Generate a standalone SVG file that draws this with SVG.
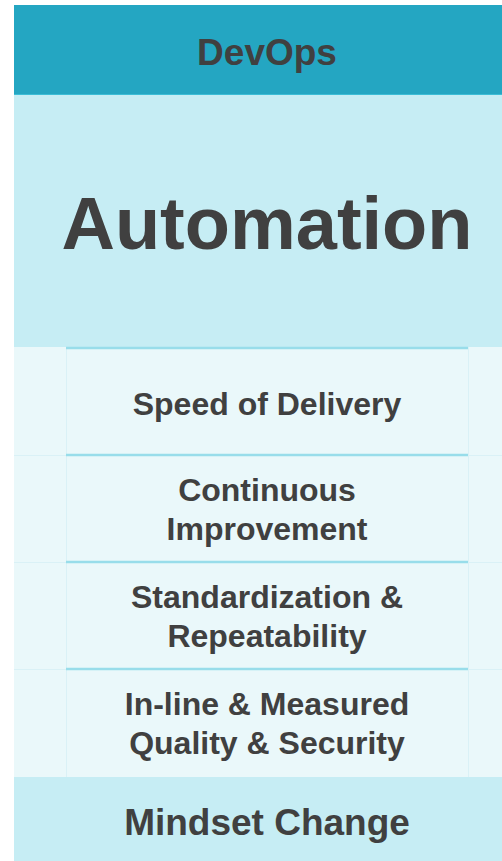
<svg xmlns="http://www.w3.org/2000/svg" width="502" height="861" viewBox="0 0 502 861">
<style>
.t{font-family:"Liberation Sans",Arial,sans-serif;font-weight:bold;fill:#404040;text-anchor:middle}
.row{fill:#EAF8FA}
.sep{stroke:#98DDEA;stroke-width:2.5}
.faint{stroke:#DAF1F6;stroke-width:1}
</style>
<rect width="502" height="861" fill="#FFFFFF"/>
<g id="devops">
<rect x="14" y="5" width="488" height="89" fill="#24A6C2"/>
<line x1="14" y1="94.5" x2="502" y2="94.5" stroke="#3BBDD6" stroke-width="1"/>
<text class="t" x="267" y="65" font-size="37">DevOps</text>
</g>
<g id="automation">
<rect x="14" y="95" width="488" height="252" fill="#C6EDF4"/>
<text class="t" x="267" y="249" font-size="74">Automation</text>
</g>
<g id="rows-bg">
<rect class="row" x="14" y="347" width="488" height="430"/>
<line class="faint" x1="66.5" y1="347" x2="66.5" y2="777"/>
<line class="faint" x1="468.5" y1="347" x2="468.5" y2="777"/>
<line class="faint" x1="14" y1="455.5" x2="66" y2="455.5"/>
<line class="faint" x1="469" y1="455.5" x2="502" y2="455.5"/>
<line class="faint" x1="14" y1="562.5" x2="66" y2="562.5"/>
<line class="faint" x1="469" y1="562.5" x2="502" y2="562.5"/>
<line class="faint" x1="14" y1="669.5" x2="66" y2="669.5"/>
<line class="faint" x1="469" y1="669.5" x2="502" y2="669.5"/>
</g>
<g id="speed">
<line class="sep" x1="66" y1="348" x2="468" y2="348"/>
<text class="t" x="267" y="415" font-size="32">Speed of Delivery</text>
</g>
<g id="improvement">
<line class="sep" x1="66" y1="455" x2="468" y2="455"/>
<text class="t" x="267" y="501" font-size="32">Continuous</text>
<text class="t" x="267" y="540" font-size="32">Improvement</text>
</g>
<g id="standardization">
<line class="sep" x1="66" y1="562" x2="468" y2="562"/>
<text class="t" x="267" y="608" font-size="32">Standardization &amp;</text>
<text class="t" x="267" y="647" font-size="32">Repeatability</text>
</g>
<g id="quality">
<line class="sep" x1="66" y1="669" x2="468" y2="669"/>
<text class="t" x="267" y="715" font-size="32">In-line &amp; Measured</text>
<text class="t" x="267" y="754" font-size="32">Quality &amp; Security</text>
</g>
<g id="mindset">
<rect x="14" y="777" width="488" height="84" fill="#C6EDF4"/>
<text class="t" x="267" y="835" font-size="37">Mindset Change</text>
</g>
<g id="connectors"></g>
</svg>
